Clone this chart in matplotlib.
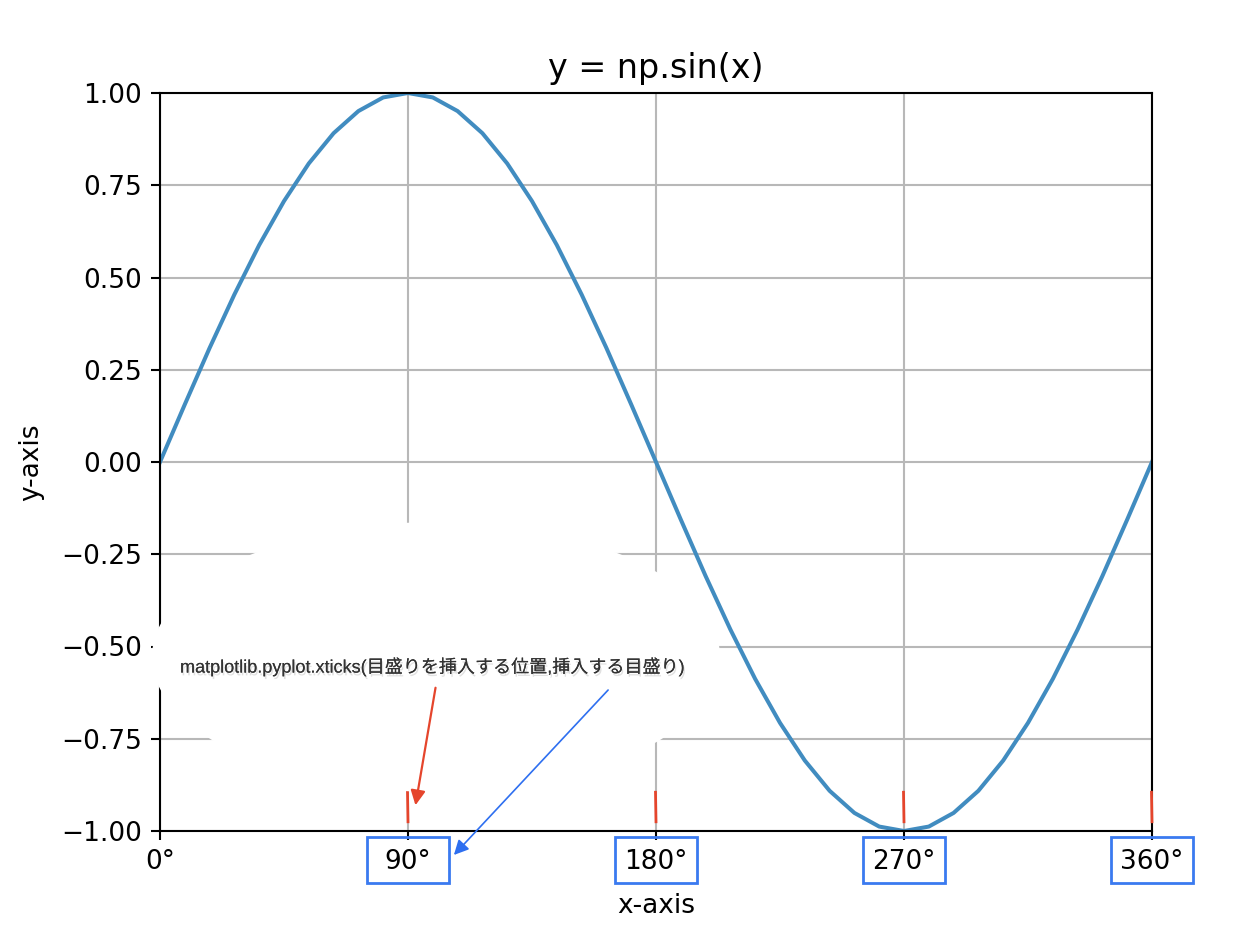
import numpy as np
import matplotlib.pyplot as plt
from matplotlib.patches import Ellipse, Rectangle, FancyArrowPatch
from matplotlib import patheffects as pe
import matplotlib.transforms as mtransforms

# データ (x: 度, y = sin(x))
x_deg = [0, 9, 18, 27, 36, 45, 54, 63, 72, 81, 90, 99, 108, 117, 126, 135, 144, 153, 162, 171, 180,
         189, 198, 207, 216, 225, 234, 243, 252, 261, 270, 279, 288, 297, 306, 315, 324, 333, 342, 351, 360]
y_val = [0.000, 0.156, 0.309, 0.454, 0.588, 0.707, 0.809, 0.891, 0.951, 0.988, 1.000,
         0.988, 0.951, 0.891, 0.809, 0.707, 0.588, 0.454, 0.309, 0.156, 0.000,
         -0.156, -0.309, -0.454, -0.588, -0.707, -0.809, -0.891, -0.951, -0.988, -1.000,
         -0.988, -0.951, -0.891, -0.809, -0.707, -0.588, -0.454, -0.309, -0.156, 0.000]
tick_pos = [0, 90, 180, 270, 360]
tick_lbl = ['0°', '90°', '180°', '270°', '360°']
yticks = [-1.0, -0.75, -0.5, -0.25, 0.0, 0.25, 0.5, 0.75, 1.0]
boxed_ticks = [90, 180, 270, 360]
note = 'matplotlib.pyplot.xticks(目盛りを挿入する位置,挿入する目盛り)'

W, H = 1254, 932
fig = plt.figure(figsize=(W / 100, H / 100), dpi=100)
ax = fig.add_axes([160 / W, 1 - 831 / H, 992 / W, 738 / H])

ax.plot(x_deg, y_val, color='#418cc0', lw=2.9, zorder=2)
ax.set_xlim(0, 360)
ax.set_ylim(-1, 1)
ax.set_xticks(tick_pos)
ax.set_xticklabels(tick_lbl)
ax.set_yticks(yticks)
ax.set_yticklabels([('%.2f' % v).replace('-', '\u2212') for v in yticks])
ax.tick_params(labelsize=19, length=6.5, width=1.5, pad=6.5)
ax.grid(True, color='#b8b8b8', lw=1.5)
for s in ax.spines.values():
    s.set_linewidth(1.5)
ax.set_title('y = np.sin(x)', fontsize=24, pad=11)
ax.set_xlabel('x-axis', fontsize=19, labelpad=13)
ax.set_ylabel('y-axis', fontsize=19, labelpad=12)

# 白い吹き出し領域
blob = Ellipse((436, H - 657), 568, 270, transform=None, facecolor='white',
               edgecolor='none', zorder=2.6, clip_on=False)
fig.patches.append(blob)
blob.set_figure(fig)

fig.text(180 / W, 1 - 667 / H, note, fontsize=13, color='#333333', va='center',
         family=['Liberation Sans', 'Noto Sans CJK JP'], zorder=5,
         path_effects=[pe.withSimplePatchShadow(offset=(1, -2), shadow_rgbFace='#aaaaaa', alpha=0.35),
                       pe.Normal()])

# 矢印
for start, end, col, lw in [((436, H - 685), (415, H - 808), '#e5452c', 1.6),
                            ((610, H - 688), (452, H - 857), '#2e6ff0', 1.2)]:
    arr = FancyArrowPatch(start, end, transform=None, arrowstyle='-|>', color=col,
                          lw=lw, mutation_scale=22, zorder=5)
    fig.patches.append(arr)
    arr.set_figure(fig)

# 赤い目盛り線・青い枠
trans = mtransforms.blended_transform_factory(ax.transData, fig.transFigure)
px_deg = 360 / 992
for t in boxed_ticks:
    ax.plot([t - 0.5 * px_deg, t], [-0.895, -0.975], color='#e5452c', lw=2, zorder=4, clip_on=False)
    r = Rectangle((t - 41 * px_deg, 1 - 883 / H), 82 * px_deg, 46 / H, transform=trans,
                  fill=False, edgecolor='#3a7af0', lw=2, clip_on=False, zorder=5)
    fig.patches.append(r)

fig.savefig('out.png', dpi=100)
